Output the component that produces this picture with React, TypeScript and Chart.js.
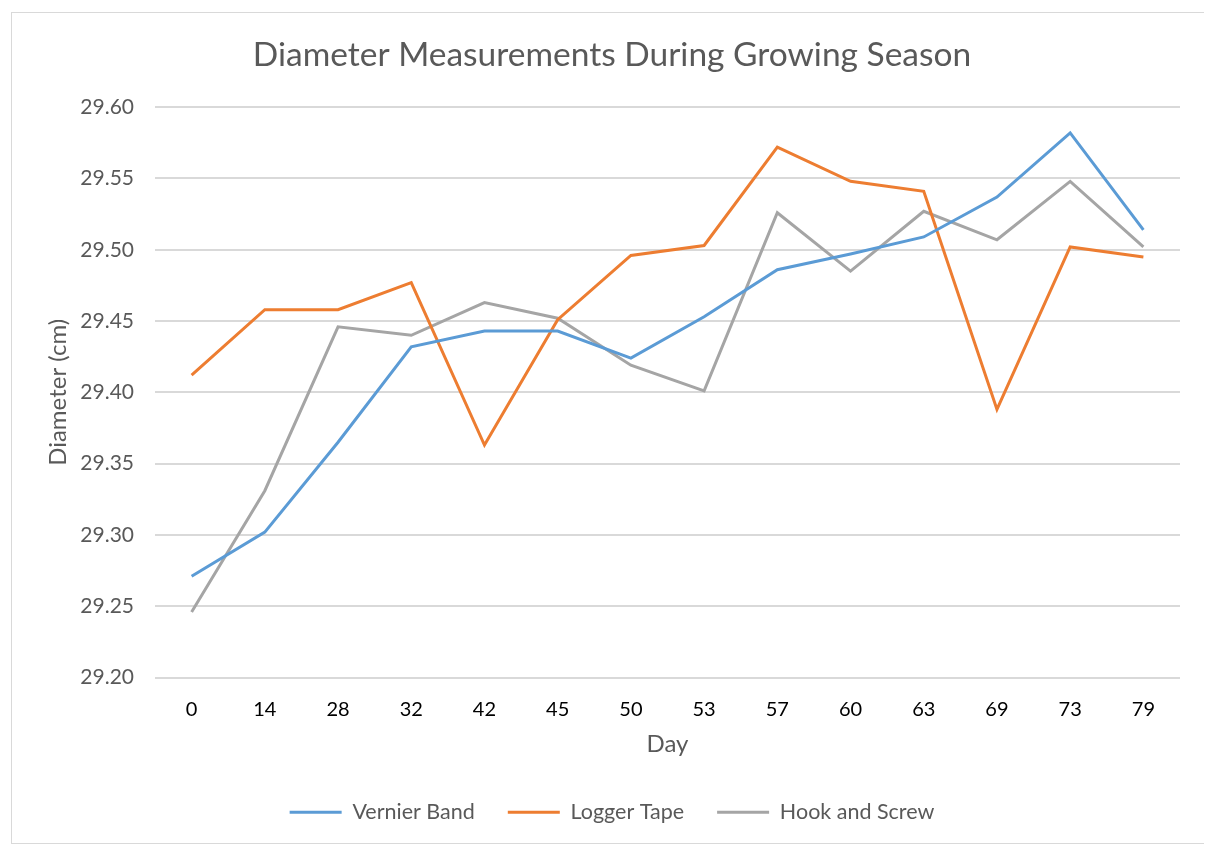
import React, { useEffect, useRef } from "react";
import { Chart, registerables } from "chart.js";

Chart.register(...registerables);

const days: string[] = ["0", "14", "28", "32", "42", "45", "50", "53", "57", "60", "63", "69", "73", "79"];
const vernierBand: number[] = [29.271, 29.302, 29.365, 29.432, 29.443, 29.443, 29.424, 29.453, 29.486, 29.497, 29.509, 29.537, 29.582, 29.514];
const loggerTape: number[] = [29.412, 29.458, 29.458, 29.477, 29.363, 29.451, 29.496, 29.503, 29.572, 29.548, 29.541, 29.388, 29.502, 29.495];
const hookAndScrew: number[] = [29.246, 29.331, 29.446, 29.440, 29.463, 29.452, 29.419, 29.401, 29.526, 29.485, 29.527, 29.507, 29.548, 29.502];
const seriesNames: string[] = ["Vernier Band", "Logger Tape", "Hook and Screw"];
const seriesColors: string[] = ["#5B9BD5", "#ED7D31", "#A5A5A5"];

const FONT = "Lato, 'Open Sans', sans-serif";

export default function App() {
  const canvasRef = useRef<HTMLCanvasElement | null>(null);

  useEffect(() => {
    if (!canvasRef.current) return;
    const values = [vernierBand, loggerTape, hookAndScrew];
    const chart = new Chart(canvasRef.current, {
      type: "line",
      data: {
        labels: days,
        datasets: values.map((v, i) => ({
          label: seriesNames[i],
          data: v,
          borderColor: seriesColors[i],
          backgroundColor: seriesColors[i],
          borderWidth: 3,
          pointRadius: 0,
          pointHoverRadius: 0,
          pointStyle: "line",
          tension: 0,
          fill: false,
        })),
      },
      options: {
        animation: false,
        responsive: true,
        maintainAspectRatio: false,
        layout: { padding: { top: 12, right: 30, bottom: 10, left: 32 } },
        plugins: {
          title: {
            display: true,
            text: "Diameter Measurements During Growing Season",
            color: "#595959",
            font: { family: FONT, size: 33.5, weight: "normal" },
            padding: { top: 10, bottom: 32 },
          },
          legend: {
            display: true,
            position: "bottom",
            labels: {
              usePointStyle: true,
              pointStyleWidth: 52,
              color: "#595959",
              font: { family: FONT, size: 21.5 },
              padding: 33,
            },
          },
          tooltip: { enabled: false },
        },
        scales: {
          x: {
            type: "category",
            offset: true,
            grid: { display: false, drawTicks: false },
            border: { display: false },
            ticks: {
              color: "#000000",
              font: { family: FONT, size: 20 },
              padding: 20,
              maxRotation: 0,
              autoSkip: false,
            },
            title: {
              display: true,
              text: "Day",
              color: "#595959",
              font: { family: FONT, size: 24 },
              padding: { top: 4, bottom: 10 },
            },
            afterFit: (scale: any) => {
              scale.height = 91;
            },
          },
          y: {
            min: 29.2,
            max: 29.6,
            grid: { color: "#D9D9D9", lineWidth: 2, drawTicks: false },
            border: { display: false },
            ticks: {
              stepSize: 0.05,
              color: "#595959",
              font: { family: FONT, size: 21 },
              padding: 21,
              callback: (v: any) => Number(v).toFixed(2),
            },
            title: {
              display: true,
              text: "Diameter (cm)",
              color: "#595959",
              font: { family: FONT, size: 24 },
              padding: { top: 0, bottom: 4 },
            },
            afterFit: (scale: any) => {
              scale.width = 111;
            },
          },
        },
      },
    });
    return () => chart.destroy();
  }, []);

  return (
    <div
      style={{
        width: 1200,
        height: 832,
        marginTop: 4,
        marginLeft: 3,
        border: "1px solid #D9D9D9",
        boxSizing: "border-box",
        background: "#FFFFFF",
        position: "relative",
      }}
    >
      <div style={{ position: "relative", width: "100%", height: "100%" }}>
        <canvas ref={canvasRef} />
      </div>
    </div>
  );
}
